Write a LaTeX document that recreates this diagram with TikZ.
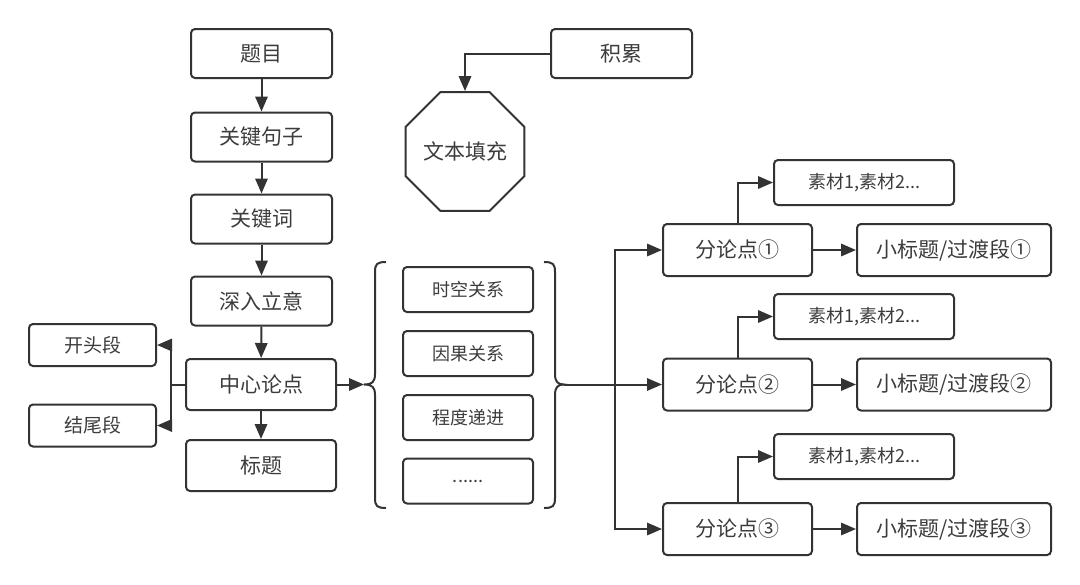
\documentclass[tikz,border=0pt]{standalone}
\usepackage{fontspec}
\newfontfamily\cjk{Noto Sans CJK SC}
\usetikzlibrary{arrows.meta,shapes.geometric,calc}
\definecolor{ln}{HTML}{333333}
\definecolor{tx}{HTML}{3c3c3c}
\tikzset{
  box/.style={draw=ln,line width=1pt,rounded corners=2pt,inner sep=0pt,text=tx,font=\cjk\fontsize{10.5}{12}\selectfont},
  bigbox/.style={box,minimum width=70.5pt,minimum height=24.5pt},
  sidebox/.style={box,minimum width=63.5pt,minimum height=21pt,font=\cjk\fontsize{9.5}{11}\selectfont},
  midbox/.style={box,minimum width=65pt,minimum height=22.5pt,font=\cjk\fontsize{9}{11}\selectfont},
  fdbox/.style={box,minimum width=74.5pt,minimum height=26pt},
  scbox/.style={box,minimum width=90pt,minimum height=22.5pt,font=\cjk\fontsize{9}{11}\selectfont},
  xbbox/.style={box,minimum width=97pt,minimum height=26pt},
  conn/.style={draw=ln,line width=1pt},
  arr/.style={conn,-{Triangle[length=7.5pt,width=6.2pt]}}
}
\begin{document}
\begin{tikzpicture}[x=0.5pt,y=-0.5pt]
\useasboundingbox (0,0) rectangle (1080,584);
% left column
\node[bigbox] (tm) at (261.5,53.5) {题目};
\node[bigbox] (gjjz) at (261.5,137) {关键句子};
\node[bigbox] (gjc) at (261.5,219) {关键词};
\node[bigbox] (srly) at (261.5,301) {深入立意};
\node[bigbox,minimum width=75pt,minimum height=25.5pt] (zx) at (261,384.5) {中心论点};
\node[bigbox,minimum width=75pt,minimum height=25.5pt] (bt) at (261,465.5) {标题};
\node[sidebox] (ktd) at (92.5,345) {开头段};
\node[sidebox] (jwd) at (92.5,425.5) {结尾段};
% top middle
\node[bigbox] (jl) at (621.5,53.5) {积累};
\node[draw=ln,line width=1pt,regular polygon,regular polygon sides=8,minimum size=63.8pt,inner sep=0pt,text=tx,font=\cjk\fontsize{10.5}{12}\selectfont] (wb) at (465,151.5) {文本填充};
% middle boxes
\node[midbox] (m1) at (468,289.5) {时空关系};
\node[midbox] (m2) at (468,353.5) {因果关系};
\node[midbox] (m3) at (468,417.5) {程度递进};
\node[midbox] (m4) at (468,481) {......};
% right side
\node[fdbox] (f1) at (737.5,250) {分论点①};
\node[fdbox] (f2) at (737.5,384.5) {分论点②};
\node[fdbox] (f3) at (737.5,529) {分论点③};
\node[scbox] (s1) at (864,182.5) {素材1,素材2...};
\node[scbox] (s2) at (864,316.5) {素材1,素材2...};
\node[scbox] (s3) at (864,456.5) {素材1,素材2...};
\node[xbbox] (x1) at (954,250) {小标题/过渡段①};
\node[xbbox] (x2) at (954,384.5) {小标题/过渡段②};
\node[xbbox] (x3) at (954,529) {小标题/过渡段③};
% braces
\coordinate (lb) at (364,384.5);
\coordinate (rb) at (564,384.5);
\draw[conn] (386,262) .. controls (377,262) and (375,264) .. (375,272) -- (375,374)
  .. controls (375,382) and (372,384.5) .. (lb)
  .. controls (372,384.5) and (375,387) .. (375,395) -- (375,498)
  .. controls (375,506) and (377,508) .. (386,508);
\draw[conn] (544,262) .. controls (553,262) and (555,264) .. (555,272) -- (555,374)
  .. controls (555,382) and (558,384.5) .. (rb)
  .. controls (558,384.5) and (555,387) .. (555,395) -- (555,498)
  .. controls (555,506) and (553,508) .. (544,508);
% left column arrows
\draw[arr] (tm) -- (gjjz);
\draw[arr] (gjjz) -- (gjc);
\draw[arr] (gjc) -- (srly);
\draw[arr] (srly) -- (zx);
\draw[arr] (zx) -- (bt);
\draw[conn] (zx.west) -- ++(-14,0) coordinate (j);
\draw[conn] (j) -- ++(0,-44);
\draw[conn] (j) -- ++(0,44);
\draw[arr] (j) |- (ktd.east);
\draw[arr] (j) |- (jwd.east);
\draw[arr] (zx.east) -- (lb);
% accumulation
\draw[arr] (jl.west) -| (wb.north);
% trunk
\coordinate (t) at (615,384.5);
\draw[arr] (rb) -- (f2.west);
\draw[arr] (t) |- (f1.west);
\draw[arr] (t) |- (f3.west);
% right branches
\foreach \i in {1,2,3}{
  \draw[arr] (f\i.north) |- (s\i.west);
  \draw[arr] (f\i.east) -- (x\i.west);
}
\end{tikzpicture}
\end{document}
